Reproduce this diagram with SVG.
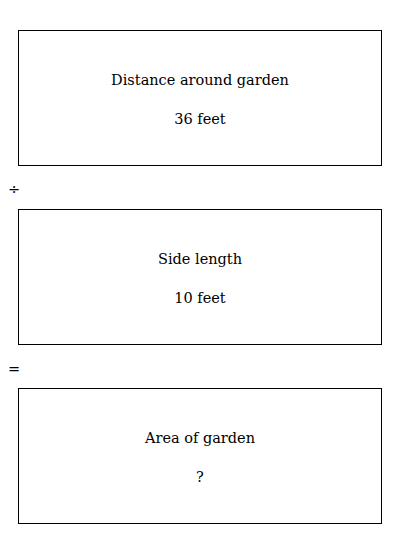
<svg xmlns="http://www.w3.org/2000/svg" width="400" height="534" viewBox="0 0 400 534">
<style>
.box{fill:#fff;stroke:#000;stroke-width:1}
text{font-family:"DejaVu Serif","Liberation Serif",serif;font-size:14.5px;fill:#000}
.c{text-anchor:middle}
</style>
<rect width="400" height="534" fill="#fff"/>
<g id="node1"><rect class="box" x="18.5" y="30.5" width="363" height="135"/>
<text class="c" x="200" y="85">Distance around garden</text>
<text class="c" x="200" y="124">36 feet</text></g>
<g id="op1"><text x="8" y="194">÷</text></g>
<g id="node2"><rect class="box" x="18.5" y="209.5" width="363" height="135"/>
<text class="c" x="200" y="264">Side length</text>
<text class="c" x="200" y="303">10 feet</text></g>
<g id="op2"><text x="8" y="374">=</text></g>
<g id="node3"><rect class="box" x="18.5" y="388.5" width="363" height="135"/>
<text class="c" x="200" y="443">Area of garden</text>
<text class="c" x="200" y="482">?</text></g>
<g id="connectors"></g>
</svg>
